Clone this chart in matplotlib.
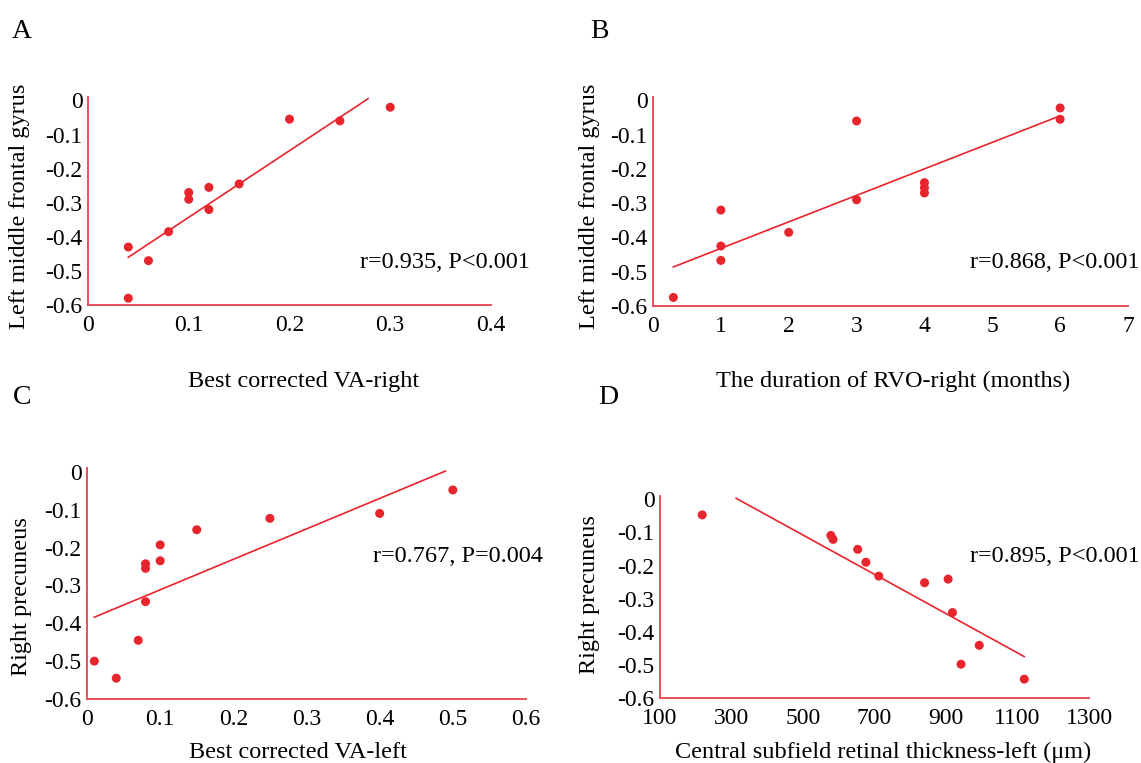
import numpy as np
import matplotlib
matplotlib.use('Agg')
import matplotlib.pyplot as plt

# panel A: best corrected VA-right vs left middle frontal gyrus
a_x = [0.04, 0.04, 0.06, 0.08, 0.10, 0.10, 0.12, 0.12, 0.15, 0.20, 0.25, 0.30]
a_y = [-0.43, -0.58, -0.47, -0.385, -0.27, -0.29, -0.255, -0.32, -0.245, -0.055, -0.06, -0.02]
a_fit_x = [0.04, 0.278]
a_fit_y = [-0.46, 0.005]

# panel B: duration of RVO-right vs left middle frontal gyrus
b_x = [0.3, 1, 1, 1, 2, 3, 3, 4, 4, 4, 6, 6]
b_y = [-0.575, -0.32, -0.425, -0.467, -0.385, -0.06, -0.29, -0.24, -0.255, -0.27, -0.022, -0.055]
b_fit_x = [0.3, 6.0]
b_fit_y = [-0.486, -0.045]

# panel C: best corrected VA-left vs right precuneus
c_x = [0.01, 0.04, 0.07, 0.08, 0.08, 0.08, 0.10, 0.10, 0.15, 0.25, 0.40, 0.50]
c_y = [-0.50, -0.545, -0.445, -0.243, -0.255, -0.343, -0.193, -0.235, -0.153, -0.123, -0.11, -0.048]
c_fit_x = [0.01, 0.49]
c_fit_y = [-0.384, 0.002]

# panel D: central subfield retinal thickness-left vs right precuneus
d_x = [218, 578, 584, 653, 676, 712, 840, 906, 918, 942, 993, 1119]
d_y = [-0.047, -0.109, -0.121, -0.151, -0.19, -0.232, -0.252, -0.241, -0.342, -0.498, -0.441, -0.543]
d_fit_x = [313, 1119]
d_fit_y = [0.003, -0.475]

W, H = 1141, 763
red = '#e8242c'
spine_red = '#e8505a'

plt.rcParams['font.family'] = ['Liberation Serif', 'DejaVu Serif']

fig = plt.figure(figsize=(W / 100, H / 100), dpi=100)


def add_panel(l, r, t, b):
    return fig.add_axes([l / W, 1 - b / H, (r - l) / W, (b - t) / H])


def style(ax, xlim, xticks, xticklabels):
    ax.set_xlim(xlim)
    ax.set_ylim(-0.6, 0.01)
    ax.set_xticks(xticks)
    ax.set_xticklabels(xticklabels)
    ax.set_yticks([0, -0.1, -0.2, -0.3, -0.4, -0.5, -0.6])
    ax.set_yticklabels(['0', '-0.1', '-0.2', '-0.3', '-0.4', '-0.5', '-0.6'])
    for s in ['top', 'right']:
        ax.spines[s].set_visible(False)
    for s in ['left', 'bottom']:
        ax.spines[s].set_color(spine_red)
        ax.spines[s].set_linewidth(1.4)
    ax.tick_params(axis='both', length=0, labelsize=17)
    ax.tick_params(axis='x', pad=7)
    ax.tick_params(axis='y', pad=4)
    ax.patch.set_alpha(0)


panels = [
    (add_panel(88, 491, 97, 305), a_x, a_y, a_fit_x, a_fit_y,
     (0, 0.4), [0, 0.1, 0.2, 0.3, 0.4], ['0', '0.1', '0.2', '0.3', '0.4']),
    (add_panel(653, 1128, 97, 306), b_x, b_y, b_fit_x, b_fit_y,
     (0, 7), [0, 1, 2, 3, 4, 5, 6, 7], ['0', '1', '2', '3', '4', '5', '6', '7']),
    (add_panel(87, 526, 468, 699), c_x, c_y, c_fit_x, c_fit_y,
     (0, 0.6), [0, 0.1, 0.2, 0.3, 0.4, 0.5, 0.6], ['0', '0.1', '0.2', '0.3', '0.4', '0.5', '0.6']),
    (add_panel(660, 1089, 496, 698), d_x, d_y, d_fit_x, d_fit_y,
     (100, 1300), [100, 300, 500, 700, 900, 1100, 1300],
     ['100', '300', '500', '700', '900', '1100', '1300']),
]

for ax, x, y, fx, fy, xlim, xt, xtl in panels:
    style(ax, xlim, xt, xtl)
    ax.plot(fx, fy, color=red, lw=1.2, zorder=2)
    ax.scatter(x, y, s=42, color=red, edgecolors='none', zorder=3, clip_on=False)

# panel letters
fs_letter = 20
fig.text(22 / W, 1 - 32 / H, 'A', fontsize=fs_letter, ha='center', va='center')
fig.text(599 / W, 1 - 32 / H, 'B', fontsize=fs_letter, ha='center', va='center')
fig.text(22 / W, 1 - 397 / H, 'C', fontsize=fs_letter, ha='center', va='center')
fig.text(608 / W, 1 - 397 / H, 'D', fontsize=fs_letter, ha='center', va='center')

# axis labels
fs_lab = 17.5
fig.text(20 / W, 1 - 206 / H, 'Left middle frontal gyrus', fontsize=fs_lab,
         rotation=90, ha='center', va='center')
fig.text(590 / W, 1 - 206 / H, 'Left middle frontal gyrus', fontsize=fs_lab,
         rotation=90, ha='center', va='center')
fig.text(22 / W, 1 - 597 / H, 'Right precuneus', fontsize=fs_lab,
         rotation=90, ha='center', va='center')
fig.text(590 / W, 1 - 595 / H, 'Right precuneus', fontsize=fs_lab,
         rotation=90, ha='center', va='center')
fig.text(304 / W, 1 - 381 / H, 'Best corrected VA-right', fontsize=fs_lab,
         ha='center', va='center')
fig.text(893 / W, 1 - 381 / H, 'The duration of RVO-right (months)', fontsize=fs_lab,
         ha='center', va='center')
fig.text(298 / W, 1 - 752 / H, 'Best corrected VA-left', fontsize=fs_lab,
         ha='center', va='center')
fig.text(883 / W, 1 - 752 / H, 'Central subfield retinal thickness-left (\u03bcm)',
         fontsize=fs_lab, ha='center', va='center')

# correlation notes
fs_note = 17.5
fig.text(360 / W, 1 - 262 / H, 'r=0.935, P<0.001', fontsize=fs_note, va='center')
fig.text(970 / W, 1 - 262 / H, 'r=0.868, P<0.001', fontsize=fs_note, va='center')
fig.text(373 / W, 1 - 557 / H, 'r=0.767, P=0.004', fontsize=fs_note, va='center')
fig.text(970 / W, 1 - 557 / H, 'r=0.895, P<0.001', fontsize=fs_note, va='center')

fig.savefig('out.png', dpi=100)
